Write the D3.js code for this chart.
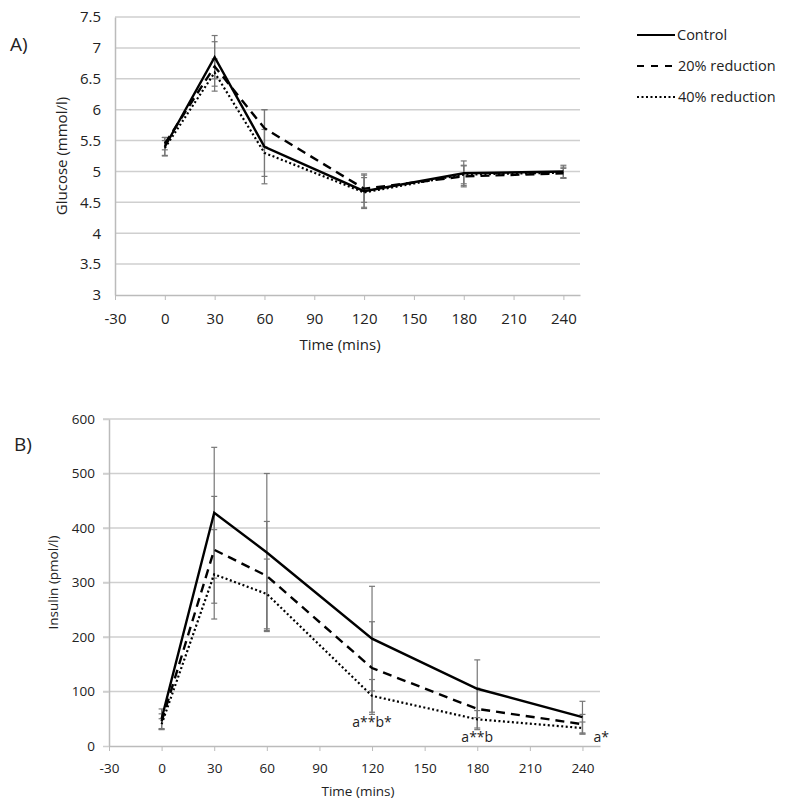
<!DOCTYPE html>
<html>
<head>
<meta charset="utf-8">
<script src="https://cdn.jsdelivr.net/npm/d3@7"></script>
<style>
  body { margin: 0; background: #fff; }
  svg text { font-family: "Open Sans", "DejaVu Sans", sans-serif; fill: #222; }
</style>
</head>
<body>
<div id="chart"></div>
<script>
// Data
var times = [0, 30, 60, 120, 180, 240];
var xTicks = [-30, 0, 30, 60, 90, 120, 150, 180, 210, 240];
var seriesNames = ["Control", "20% reduction", "40% reduction"];

var glucoseControl = [5.40, 6.85, 5.40, 4.68, 4.97, 5.00];
var glucose20 = [5.45, 6.70, 5.70, 4.72, 4.92, 4.97];
var glucose40 = [5.38, 6.60, 5.30, 4.66, 4.95, 4.98];
var glucoseErrControl = [0.15, 0.35, 0.60, 0.28, 0.20, 0.10];
var glucoseErr20 = [0.10, 0.40, 0.30, 0.22, 0.17, 0.08];
var glucoseErr40 = [0.12, 0.22, 0.38, 0.24, 0.15, 0.09];
var glucoseTicks = [3, 3.5, 4, 4.5, 5, 5.5, 6, 6.5, 7, 7.5];

var insulinControl = [50, 428, 355, 197, 105, 53];
var insulin20 = [45, 360, 312, 143, 68, 40];
var insulin40 = [40, 315, 279, 92, 49, 33];
var insulinErrControl = [18, 120, 145, 96, 53, 29];
var insulinErr20 = [14, 98, 100, 85, 38, 18];
var insulinErr40 = [10, 82, 64, 30, 16, 11];
var insulinTicks = [0, 100, 200, 300, 400, 500, 600];

var annoTimes = [120, 180, 240];
var annoLabels = ["a**b*", "a**b", "a*"];

var dashes = [null, "9,6", "2,2.5"];

var svg = d3.select("#chart").append("svg")
  .attr("width", 800)
  .attr("height", 812);

function drawPanel(opt) {
  var x = d3.scaleLinear().domain([-30, 250]).range([opt.left, opt.right]);
  var y = d3.scaleLinear().domain(opt.yDomain).range([opt.bottom, opt.top]);
  var g = svg.append("g");

  // horizontal gridlines
  g.selectAll("line.grid").data(opt.yTicks.slice(1)).enter()
    .append("line")
    .attr("x1", opt.left - opt.yTickSize).attr("x2", opt.right)
    .attr("y1", d => y(d)).attr("y2", d => y(d))
    .attr("stroke", "#cfcfcf").attr("stroke-width", 1.5);

  // x axis
  var xAxis = g.append("g")
    .attr("transform", `translate(0, ${opt.bottom})`)
    .call(d3.axisBottom(x).tickValues(xTicks).tickFormat(d => String(d))
      .tickSize(5).tickSizeOuter(0).tickPadding(opt.xPad));
  xAxis.select(".domain").attr("stroke", "#bbb").attr("stroke-width", 1.5);
  xAxis.selectAll(".tick line").attr("stroke", "#bbb");
  xAxis.selectAll("text").attr("font-size", opt.font).attr("fill", "#222");

  // y axis
  var yAxis = g.append("g")
    .attr("transform", `translate(${opt.left}, 0)`)
    .call(d3.axisLeft(y).tickValues(opt.yTicks).tickFormat(d => String(d))
      .tickSize(opt.yTickSize).tickSizeOuter(0).tickPadding(opt.yPad));
  yAxis.select(".domain").attr("stroke", "#bbb").attr("stroke-width", 1.5);
  yAxis.selectAll(".tick line").attr("stroke", "#cfcfcf").attr("stroke-width", 1.5);
  yAxis.selectAll("text").attr("font-size", opt.font).attr("fill", "#222");

  // error bars
  opt.series.forEach(function(s, i) {
    var eb = g.append("g").attr("stroke", "#777").attr("stroke-width", 1.2);
    times.forEach(function(t, j) {
      var hi = y(s[j] + opt.errs[i][j]), lo = y(s[j] - opt.errs[i][j]);
      eb.append("line").attr("x1", x(t)).attr("x2", x(t)).attr("y1", hi).attr("y2", lo);
      eb.append("line").attr("x1", x(t) - 3).attr("x2", x(t) + 3).attr("y1", hi).attr("y2", hi);
      eb.append("line").attr("x1", x(t) - 3).attr("x2", x(t) + 3).attr("y1", lo).attr("y2", lo);
    });
  });

  // lines
  var line = d3.line().x((d, j) => x(times[j])).y(d => y(d));
  opt.series.forEach(function(s, i) {
    g.append("path")
      .datum(s)
      .attr("d", line)
      .attr("fill", "none")
      .attr("stroke", "#000")
      .attr("stroke-width", i == 2 ? 2.2 : 2.4)
      .attr("stroke-dasharray", dashes[i]);
  });

  // axis titles
  g.append("text")
    .attr("transform", `translate(${opt.yLabelX}, ${(opt.top + opt.bottom) / 2}) rotate(-90)`)
    .attr("text-anchor", "middle")
    .attr("font-size", opt.font)
    .text(opt.yLabel);
  g.append("text")
    .attr("x", opt.xLabelX).attr("y", opt.xLabelY)
    .attr("text-anchor", "middle")
    .attr("font-size", opt.font)
    .text("Time (mins)");

  // panel letter
  g.append("text")
    .attr("x", opt.letterX).attr("y", opt.letterY)
    .attr("font-size", 19)
    .text(opt.letter);

  return { x: x, y: y, g: g };
}

drawPanel({
  left: 115, right: 580, top: 17, bottom: 295,
  yDomain: [3, 7.5], yTicks: glucoseTicks,
  series: [glucoseControl, glucose20, glucose40],
  errs: [glucoseErrControl, glucoseErr20, glucoseErr40],
  font: 15, xPad: 13, yPad: 14, yTickSize: 0,
  yLabel: "Glucose (mmol/l)", yLabelX: 67,
  xLabelX: 340, xLabelY: 350,
  letter: "A)", letterX: 10, letterY: 51
});

var pB = drawPanel({
  left: 109, right: 600, top: 419, bottom: 746,
  yDomain: [0, 600], yTicks: insulinTicks,
  series: [insulinControl, insulin20, insulin40],
  errs: [insulinErrControl, insulinErr20, insulinErr40],
  font: 13.5, xPad: 12, yPad: 8, yTickSize: 6,
  yLabel: "Insulin (pmol/l)", yLabelX: 58,
  xLabelX: 358, xLabelY: 796,
  letter: "B)", letterX: 14, letterY: 451
});

// significance annotations under the 40% reduction line
pB.g.selectAll("text.anno").data(annoTimes).enter()
  .append("text")
  .attr("x", (d, i) => pB.x(d) + (i == 2 ? 11 : 0))
  .attr("y", (d, i) => i == 0 ? pB.y(insulin40[3]) + 31 : 742)
  .attr("text-anchor", (d, i) => i == 2 ? "start" : "middle")
  .attr("font-size", 14)
  .text((d, i) => annoLabels[i]);

// legend
var legend = svg.append("g").attr("transform", "translate(637, 35)");
seriesNames.forEach(function(name, i) {
  var row = legend.append("g").attr("transform", `translate(0, ${i * 31})`);
  row.append("line")
    .attr("x1", 0).attr("x2", 38).attr("y1", 0).attr("y2", 0)
    .attr("stroke", "#000").attr("stroke-width", 2.2)
    .attr("stroke-dasharray", i == 1 ? "7,7" : dashes[i]);
  row.append("text")
    .attr("x", i == 0 ? 40 : 41).attr("y", 5)
    .attr("font-size", 14.5)
    .text(name);
});
</script>
</body>
</html>
